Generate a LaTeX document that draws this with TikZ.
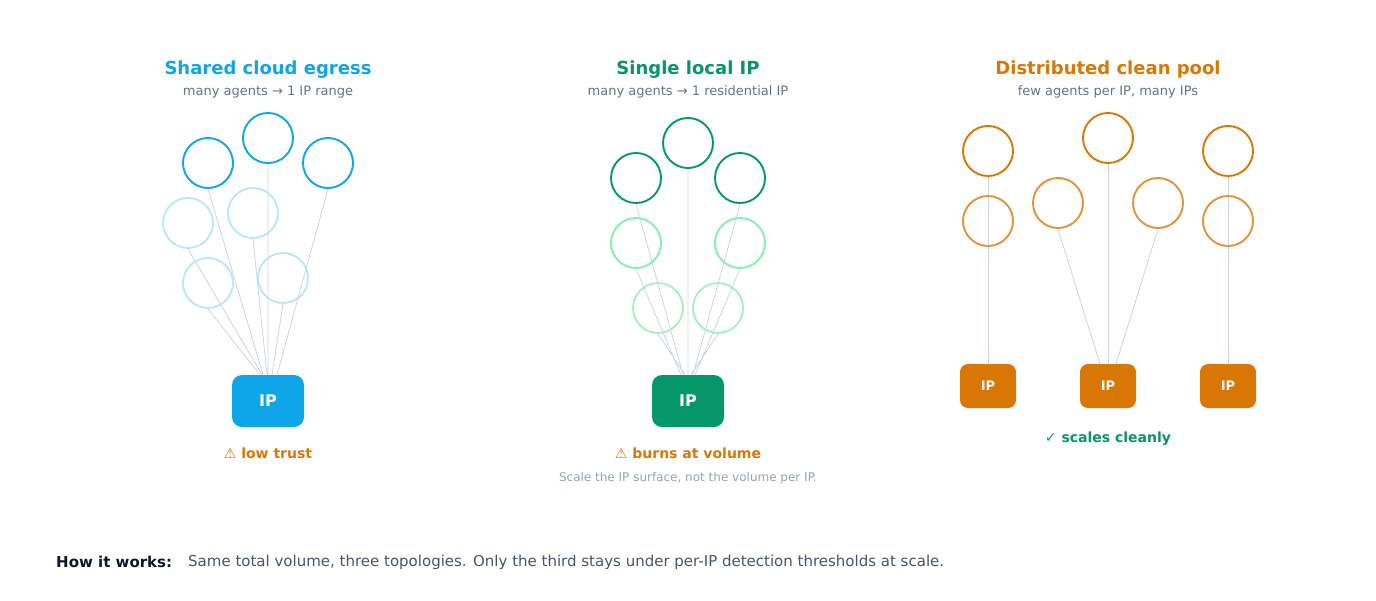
\documentclass[tikz,border=0pt]{standalone}
\usepackage{fontspec}
\setmainfont{DejaVu Sans}
\usepackage{tikz}
\usetikzlibrary{positioning}

\definecolor{sky}{HTML}{0EA5E9}
\definecolor{skylight}{HTML}{BAE6FD}
\definecolor{emer}{HTML}{059669}
\definecolor{mint}{HTML}{86EFAC}
\definecolor{mintlight}{HTML}{A7F0C4}
\definecolor{amber}{HTML}{D97706}
\definecolor{amberlight}{HTML}{E5913A}
\definecolor{wire}{HTML}{CBD5E1}
\definecolor{subgrey}{HTML}{64748B}
\definecolor{notegrey}{HTML}{94A3B8}
\definecolor{inkdark}{HTML}{0F172A}
\definecolor{inkmid}{HTML}{475569}

\begin{document}
\begin{tikzpicture}[x=1pt, y=-1pt,
	agent/.style={circle, draw=#1, line width=1.9pt, minimum size=50pt, inner sep=0pt},
	ipbox/.style={rectangle, rounded corners=10pt, fill=#1, text=white, minimum width=72pt, minimum height=52pt, font=\fontsize{16}{18}\selectfont\bfseries},
	ipsmall/.style={ipbox=#1, minimum width=56pt, minimum height=44pt, rounded corners=8pt, font=\fontsize{13}{15}\selectfont\bfseries},
	wire/.style={draw=wire, line width=0.8pt},
	title/.style={text=#1, font=\fontsize{18}{20}\selectfont\bfseries},
	sub/.style={text=subgrey, font=\fontsize{13}{15}\selectfont},
	verdict/.style={text=#1, font=\fontsize{14}{16}\selectfont\bfseries}]
\useasboundingbox (0,0) rectangle (1376,600);

% shared cloud egress
\node[title=sky] (t1) at (268,70) {Shared cloud egress};
\node[sub] (s1) at (268,92) {many agents → 1 IP range};
\node[agent=sky] (a1) at (208,163) {};
\node[agent=sky] (a2) at (268,138) {};
\node[agent=sky] (a3) at (328,163) {};
\node[agent=skylight] (a4) at (188,223) {};
\node[agent=skylight] (a5) at (253,213) {};
\node[agent=skylight] (a6) at (208,283) {};
\node[agent=skylight] (a7) at (283,278) {};
\node[ipbox=sky] (ip1) at (268,401) {IP};
\path[wire]
(a1.south) -- ([xshift=-5pt]ip1.north)
(a2.south) -- (ip1.north)
(a3.south) -- ([xshift=9pt]ip1.north)
(a4.south) -- ([xshift=-6pt]ip1.north)
(a5.south) -- ([xshift=-1pt]ip1.north)
(a6.south) -- ([xshift=-8pt]ip1.north)
(a7.south) -- ([xshift=4pt]ip1.north)
;
\node[verdict=amber] (v1) at (268,453) {{\mdseries ⚠} low trust};

% single local IP
\node[title=emer] (t2) at (688,70) {Single local IP};
\node[sub] (s2) at (688,92) {many agents → 1 residential IP};
\node[agent=emer] (b1) at (636,178) {};
\node[agent=emer] (b2) at (688,143) {};
\node[agent=emer] (b3) at (740,178) {};
\node[agent=mint] (b4) at (636,243) {};
\node[agent=mint] (b5) at (740,243) {};
\node[agent=mintlight] (b6) at (658,308) {};
\node[agent=mintlight] (b7) at (718,308) {};
\node[ipbox=emer] (ip2) at (688,401) {IP};
\path[wire]
(b1.south) -- ([xshift=-5pt]ip2.north)
(b2.south) -- (ip2.north)
(b3.south) -- ([xshift=5pt]ip2.north)
(b4.south) -- ([xshift=-7pt]ip2.north)
(b5.south) -- ([xshift=7pt]ip2.north)
(b6.south) -- ([xshift=-3pt]ip2.north)
(b7.south) -- ([xshift=3pt]ip2.north)
;
\node[verdict=amber] (v2) at (688,453) {{\mdseries ⚠} burns at volume};
\node[text=notegrey, font=\fontsize{12}{14}\selectfont] (n2) at (688,478) {Scale the IP surface, not the volume per IP.};

% distributed clean pool
\node[title=amber] (t3) at (1108,70) {Distributed clean pool};
\node[sub] (s3) at (1108,92) {few agents per IP, many IPs};
\node[ipsmall=amber] (ip3) at (988,386) {IP};
\node[ipsmall=amber] (ip4) at (1108,386) {IP};
\node[ipsmall=amber] (ip5) at (1228,386) {IP};
\coordinate (c1) at (988,151);
\coordinate (c2) at (1108,138);
\coordinate (c3) at (1228,151);
\path[wire]
(c1) ++(0,26) -- (ip3.north)
(c2) ++(0,26) -- (ip4.north)
(c3) ++(0,26) -- (ip5.north)
;
\node[agent=amber] (d1) at (c1) {};
\node[agent=amberlight] (d2) at (988,221) {};
\node[agent=amberlight] (d3) at (1058,203) {};
\node[agent=amber] (d4) at (c2) {};
\node[agent=amberlight] (d5) at (1158,203) {};
\node[agent=amber] (d6) at (c3) {};
\node[agent=amberlight] (d7) at (1228,221) {};
\path[wire]
(d3.south) -- ([xshift=-8pt]ip4.north)
(d5.south) -- ([xshift=8pt]ip4.north)
;
\node[verdict=emer] (v3) at (1108,439) {{\mdseries ✓} scales cleanly};

% footer
\node[anchor=west, inner sep=0pt, text=inkdark, font=\fontsize{15}{17}\selectfont\bfseries] (how) at (56,562) {How it works:};
\node[anchor=west, inner sep=0pt, text=inkmid, font=\fontsize{15}{17}\selectfont] (desc) at (188,562) {Same total volume, three topologies. Only the third stays under per-IP detection thresholds at scale.};
\end{tikzpicture}
\end{document}
